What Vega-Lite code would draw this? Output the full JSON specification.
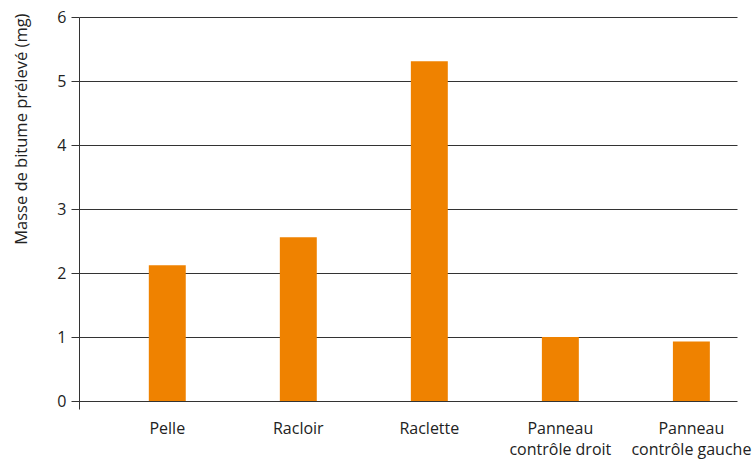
{
  "$schema": "https://vega.github.io/schema/vega-lite/v6.json",
  "autosize": "none",
  "width": 658,
  "height": 392,
  "padding": {"left": 79, "top": 17, "right": 16, "bottom": 50},
  "background": "white",
  "config": {
    "view": {"stroke": null},
    "font": "Open Sans",
    "axis": {
      "labelFont": "Open Sans",
      "titleFont": "Open Sans",
      "labelColor": "#222222",
      "titleColor": "#222222"
    }
  },
  "data": {
    "values": [
      {"outil": "Pelle", "masse": 2.12},
      {"outil": "Racloir", "masse": 2.56},
      {"outil": "Raclette", "masse": 5.31},
      {"outil": "Panneau contrôle droit", "masse": 1.0},
      {"outil": "Panneau contrôle gauche", "masse": 0.93}
    ]
  },
  "mark": {"type": "bar", "color": "#EF8200"},
  "encoding": {
    "x": {
      "field": "outil",
      "type": "nominal",
      "sort": null,
      "scale": {"paddingInner": 0.718, "paddingOuter": 0.37, "align": 0.72},
      "axis": {
        "title": null,
        "domain": false,
        "ticks": false,
        "labelAngle": 0,
        "labelFontSize": 16,
        "labelPadding": 11,
        "labelLineHeight": 21,
        "labelBaseline": "top",
        "labelExpr": "indexof(datum.label, 'Panneau ') == 0 ? ['Panneau', substring(datum.label, 8)] : datum.label"
      }
    },
    "y": {
      "field": "masse",
      "type": "quantitative",
      "scale": {"domain": [-0.125, 6], "nice": false, "zero": false},
      "axis": {
        "title": "Masse de bitume prélevé (mg)",
        "titleFontSize": 16.5,
        "titleFontWeight": "normal",
        "titleAnchor": "end",
        "titleY": -4,
        "titlePadding": 27,
        "values": [0, 1, 2, 3, 4, 5, 6],
        "format": "d",
        "grid": true,
        "gridColor": "#333333",
        "gridOpacity": 1,
        "domain": true,
        "domainColor": "#333333",
        "tickColor": "#333333",
        "tickSize": 8,
        "labelFontSize": 16,
        "labelPadding": 5
      }
    },
    "y2": {"datum": 0}
  }
}
